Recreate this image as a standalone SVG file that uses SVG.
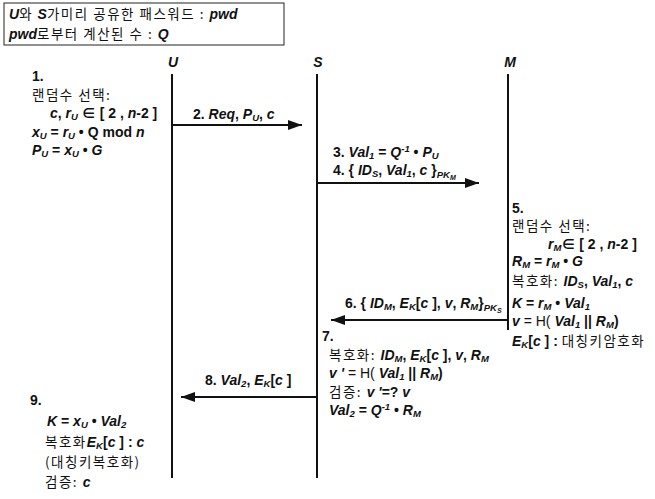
<svg xmlns="http://www.w3.org/2000/svg" width="655" height="499" viewBox="0 0 655 499">
<defs>
<style>
text{font-family:"Liberation Sans",Arial,"Noto Sans CJK KR",sans-serif;font-size:14px;fill:#111;font-weight:bold;}
.i{font-style:italic;}
.k{font-weight:normal;font-style:normal;font-family:"Noto Sans CJK KR","Liberation Sans",sans-serif;font-size:13.5px;letter-spacing:1.5px;}
.n{font-style:normal;}
.s{font-size:9.5px;}
.lbl{font-size:14px;font-style:italic;}
.life{stroke:#111;stroke-width:2;fill:none;}
.msg{stroke:#111;stroke-width:2;fill:none;}
</style>
<marker id="ah" viewBox="0 0 14 10" refX="14" refY="5" markerWidth="14" markerHeight="10" markerUnits="userSpaceOnUse" orient="auto">
<path d="M0,0 L14,5 L0,10 Z" fill="#111"/>
</marker>
</defs>

<g id="legend">
<rect x="4" y="3" width="280" height="42" fill="none" stroke="#222" stroke-width="1"/>
<text x="9" y="19"><tspan class="i">U</tspan><tspan class="k">와 </tspan><tspan class="i">S</tspan><tspan class="k">가미리 공유한 패스워드 : </tspan><tspan class="i">pwd</tspan></text>
<text x="9" y="39"><tspan class="i">pwd</tspan><tspan class="k">로부터 계산된 수 : </tspan><tspan class="i">Q</tspan></text>
</g>

<g id="U">
<text class="lbl" x="173" y="67" text-anchor="middle">U</text>
<line class="life" x1="172" y1="74" x2="172" y2="478"/>
</g>
<g id="S">
<text class="lbl" x="318" y="67" text-anchor="middle">S</text>
<line class="life" x1="317" y1="74" x2="317" y2="478"/>
</g>
<g id="M">
<text class="lbl" x="510" y="67" text-anchor="middle">M</text>
<line class="life" x1="508" y1="74" x2="508" y2="330"/>
</g>

<g id="step1">
<text x="32" y="81">1.</text>
<text x="32" y="100"><tspan class="k">랜덤수  선택:</tspan></text>
<text x="50" y="118"><tspan class="i">c</tspan>, <tspan class="i">r<tspan class="s" dy="2">U</tspan></tspan><tspan dy="-2"> ∈ [ 2 , </tspan><tspan class="i">n</tspan>-2 ]</text>
<text x="32" y="137"><tspan class="i">x<tspan class="s" dy="2">U</tspan></tspan><tspan dy="-2"> = </tspan><tspan class="i">r<tspan class="s" dy="2">U</tspan></tspan><tspan dy="-2"> • Q mod </tspan><tspan class="i">n</tspan></text>
<text x="32" y="155"><tspan class="i">P<tspan class="s" dy="2">U</tspan></tspan><tspan dy="-2"> = </tspan><tspan class="i">x<tspan class="s" dy="2">U</tspan></tspan><tspan dy="-2"> • </tspan><tspan class="i">G</tspan></text>
</g>

<g id="step3">
<text x="333" y="157">3. <tspan class="i">Val<tspan class="s" dy="2">1</tspan></tspan><tspan dy="-2"> = </tspan><tspan class="i">Q<tspan class="s" dy="-5">-1</tspan></tspan><tspan dy="5"> • </tspan><tspan class="i">P<tspan class="s" dy="2">U</tspan></tspan></text>
</g>

<g id="step5">
<text x="512" y="213">5.</text>
<text x="512" y="231"><tspan class="k">랜덤수  선택:</tspan></text>
<text x="548" y="249"><tspan class="i">r<tspan class="s" dy="2">M</tspan></tspan><tspan dy="-2">∈ [ 2 , </tspan><tspan class="i">n</tspan>-2 ]</text>
<text x="512" y="266"><tspan class="i">R<tspan class="s" dy="2">M</tspan></tspan><tspan dy="-2"> = </tspan><tspan class="i">r<tspan class="s" dy="2">M</tspan></tspan><tspan dy="-2"> • </tspan><tspan class="i">G</tspan></text>
<text x="512" y="286"><tspan class="k">복호화: </tspan><tspan class="i">ID<tspan class="s" dy="2">S</tspan></tspan><tspan dy="-2">, </tspan><tspan class="i">Val<tspan class="s" dy="2">1</tspan></tspan><tspan dy="-2">, </tspan><tspan class="i">c</tspan></text>
<text x="512" y="308"><tspan class="i">K</tspan> = <tspan class="i">r<tspan class="s" dy="2">M</tspan></tspan><tspan dy="-2"> • </tspan><tspan class="i">Val<tspan class="s" dy="2">1</tspan></tspan></text>
<text x="512" y="326"><tspan class="i">v</tspan><tspan class="n" font-weight="normal"> = H( </tspan><tspan class="i">Val<tspan class="s" dy="2">1</tspan></tspan><tspan dy="-2"> || </tspan><tspan class="i">R<tspan class="s" dy="2">M</tspan></tspan><tspan dy="-2">)</tspan></text>
<text x="512" y="346"><tspan class="i">E<tspan class="s" dy="2">K</tspan></tspan><tspan dy="-2">[</tspan><tspan class="i">c</tspan> ] : <tspan class="k">대칭키암호화</tspan></text>
</g>

<g id="step7">
<text x="322" y="341">7.</text>
<text x="329" y="360"><tspan class="k">복호화: </tspan><tspan class="i">ID<tspan class="s" dy="2">M</tspan></tspan><tspan dy="-2">, </tspan><tspan class="i">E<tspan class="s" dy="2">K</tspan></tspan><tspan dy="-2">[</tspan><tspan class="i">c</tspan> ], <tspan class="i">v</tspan>, <tspan class="i">R<tspan class="s" dy="2">M</tspan></tspan></text>
<text x="329" y="378"><tspan class="i">v '</tspan><tspan class="n" font-weight="normal"> = H( </tspan><tspan class="i">Val<tspan class="s" dy="2">1</tspan></tspan><tspan dy="-2"> || </tspan><tspan class="i">R<tspan class="s" dy="2">M</tspan></tspan><tspan dy="-2">)</tspan></text>
<text x="329" y="397"><tspan class="k">검증:  </tspan><tspan class="i">v '</tspan>=? <tspan class="i">v</tspan></text>
<text x="329" y="415"><tspan class="i">Val<tspan class="s" dy="2">2</tspan></tspan><tspan dy="-2"> = </tspan><tspan class="i">Q<tspan class="s" dy="-5">-1</tspan></tspan><tspan dy="5"> • </tspan><tspan class="i">R<tspan class="s" dy="2">M</tspan></tspan></text>
</g>

<g id="step9">
<text x="30" y="405">9.</text>
<text x="47" y="426"><tspan class="i">K</tspan> = <tspan class="i">x<tspan class="s" dy="2">U</tspan></tspan><tspan dy="-2"> • </tspan><tspan class="i">Val<tspan class="s" dy="2">2</tspan></tspan></text>
<text x="45" y="447"><tspan class="k">복호화</tspan><tspan class="i">E<tspan class="s" dy="2">K</tspan></tspan><tspan dy="-2">[</tspan><tspan class="i">c</tspan> ] : <tspan class="i">c</tspan></text>
<text x="45" y="467"><tspan class="k">(대칭키복호화)</tspan></text>
<text x="45" y="487"><tspan class="k">검증: </tspan><tspan class="i">c</tspan></text>
</g>

<g id="connectors">
<line class="msg" x1="172" y1="125" x2="302" y2="125" marker-end="url(#ah)"/>
<text x="193" y="119">2. <tspan class="i">Req</tspan>, <tspan class="i">P<tspan class="s" dy="2">U</tspan></tspan><tspan dy="-2">, </tspan><tspan class="i">c</tspan></text>
<line class="msg" x1="317" y1="183" x2="479" y2="183" marker-end="url(#ah)"/>
<text x="333" y="175">4. { <tspan class="i">ID<tspan class="s" dy="2">S</tspan></tspan><tspan dy="-2">, </tspan><tspan class="i">Val<tspan class="s" dy="2">1</tspan></tspan><tspan dy="-2">, </tspan><tspan class="i">c</tspan> }<tspan class="i s" dy="3">PK<tspan dy="2" font-size="7">M</tspan></tspan></text>
<line class="msg" x1="508" y1="320" x2="331" y2="320" marker-end="url(#ah)"/>
<text x="345" y="308">6. { <tspan class="i">ID<tspan class="s" dy="2">M</tspan></tspan><tspan dy="-2">, </tspan><tspan class="i">E<tspan class="s" dy="2">K</tspan></tspan><tspan dy="-2">[</tspan><tspan class="i">c</tspan> ], <tspan class="i">v</tspan>, <tspan class="i">R<tspan class="s" dy="2">M</tspan></tspan><tspan dy="-2">}</tspan><tspan class="i s" dy="3">PK<tspan dy="2" font-size="7">S</tspan></tspan></text>
<line class="msg" x1="317" y1="397" x2="181" y2="397" marker-end="url(#ah)"/>
<text x="205" y="385">8. <tspan class="i">Val<tspan class="s" dy="2">2</tspan></tspan><tspan dy="-2">, </tspan><tspan class="i">E<tspan class="s" dy="2">K</tspan></tspan><tspan dy="-2">[</tspan><tspan class="i">c</tspan> ]</text>
</g>
</svg>
